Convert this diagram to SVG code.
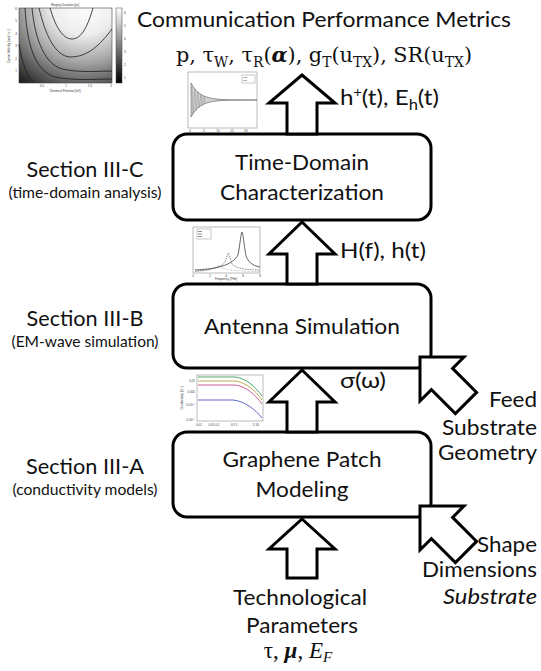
<svg xmlns="http://www.w3.org/2000/svg" width="541" height="671" viewBox="0 0 541 671">
  <defs>
    <radialGradient id="ringFill" gradientUnits="userSpaceOnUse" cx="84" cy="2" r="108">
      <stop offset="0" stop-color="#ffffff"/>
      <stop offset="0.3" stop-color="#eeeeee"/>
      <stop offset="0.55" stop-color="#a8a8a8"/>
      <stop offset="0.8" stop-color="#505050"/>
      <stop offset="1" stop-color="#080808"/>
    </radialGradient>
    <linearGradient id="barFill" x1="0" y1="0" x2="0" y2="1">
      <stop offset="0" stop-color="#ffffff"/>
      <stop offset="1" stop-color="#000000"/>
    </linearGradient>
  </defs>
  <style>
    .box{fill:#fff;stroke:#000;stroke-width:3}
    .arrow{fill:#fff;stroke:#000;stroke-width:3;stroke-linejoin:miter}
    .lbl{font-family:Lato,"Open Sans","Liberation Sans",sans-serif;font-size:22px;fill:#111}
    .sub{font-size:15px}
    .math{font-family:"DejaVu Serif","Liberation Serif",serif;font-size:21px;fill:#111}
    .mathb{font-family:"Liberation Serif","DejaVu Serif",serif;font-size:23px;fill:#111}
    .tiny{font-family:"Liberation Sans",Arial,sans-serif;font-size:3px;fill:#333}
    .frame{fill:#fff;stroke:#777;stroke-width:0.5}
  </style>
  <rect width="541" height="671" fill="#fff"/>

  <!-- ringing-duration contour map -->
  <g id="plot-ringing">
    <text class="tiny" x="65" y="5.5" text-anchor="middle">Ringing Duration [ps]</text>
    <rect x="19" y="8" width="93" height="75" fill="url(#ringFill)" stroke="#444" stroke-width="0.6"/>
    <g fill="none" stroke="#1a1a1a" stroke-width="0.8">
      <path d="M50,8 C55,25 62,39 72,39 C82,39 88,25 93,8"/>
      <path d="M39,8 C45,34 55,56 70,57 C88,57 100,45 112,29"/>
      <path d="M32,8 C35,40 45,64 62,69 C80,73 100,71 112,71"/>
      <path d="M25,8 C27,45 35,71 55,77 C75,81 95,79 112,79"/>
      <path d="M19,44 C22,64 27,76 34,83"/>
    </g>
    <rect x="116" y="8" width="6" height="75" fill="url(#barFill)" stroke="#444" stroke-width="0.5"/>
    <g class="tiny">
      <text x="124" y="14">6</text><text x="124" y="27">5</text><text x="124" y="40">4</text>
      <text x="124" y="53">3</text><text x="124" y="66">2</text><text x="124" y="79">1</text>
      <text x="17" y="10" text-anchor="end">6</text><text x="17" y="22" text-anchor="end">5</text>
      <text x="17" y="35" text-anchor="end">4</text><text x="17" y="47" text-anchor="end">3</text>
      <text x="17" y="60" text-anchor="end">2</text><text x="17" y="72" text-anchor="end">1</text>
      <text x="42" y="87" text-anchor="middle">0.5</text><text x="66" y="87" text-anchor="middle">1</text>
      <text x="90" y="87" text-anchor="middle">1.5</text><text x="111" y="87" text-anchor="middle">2</text>
      <text x="65" y="92" text-anchor="middle">Chemical Potential [eV]</text>
      <text transform="translate(10,46) rotate(-90)" text-anchor="middle">Carrier Mobility [m²V⁻¹s⁻¹]</text>
    </g>
  </g>

  <!-- time-domain response -->
  <g id="plot-time">
    <rect class="frame" x="188" y="72" width="69" height="56"/>
    <path d="M191,83 L194,87.8 L197,91.3 L200,93.7 L203,95.5 L206,96.8 L210,97.9 L215,98.8 L220,99.3 L225,99.6 L230,99.8 L257,100 L230,100.2 L225,100.4 L220,100.7 L215,101.2 L210,102.1 L206,103.2 L203,104.5 L200,106.3 L197,108.7 L194,112.2 L191,117 Z" fill="#d0d0d0" stroke="#444" stroke-width="0.5"/>
    <path d="M192,86 L193,114 L195,89 L196,111 L198,92 L199,108 L201,94 L202,106 L204,96 L205,104" fill="none" stroke="#888" stroke-width="0.4"/>
    <rect x="242" y="75" width="13" height="8" fill="#fff" stroke="#777" stroke-width="0.4"/>
    <path d="M243.5,77.5 H247 M243.5,80.5 H247" stroke="#555" stroke-width="0.5"/>
    <g class="tiny" font-size="2.5">
      <text x="190" y="132" text-anchor="middle">0</text><text x="204" y="132" text-anchor="middle">5</text>
      <text x="218" y="132" text-anchor="middle">10</text><text x="232" y="132" text-anchor="middle">15</text>
      <text x="246" y="132" text-anchor="middle">20</text>
      <text x="222" y="135.5" text-anchor="middle">Time [ps]</text>
    </g>
  </g>

  <!-- frequency response -->
  <g id="plot-freq">
    <rect class="frame" x="193" y="227" width="67" height="46"/>
    <path d="M195,270 C215,269 232,266 238,255 C240,245 241,232 242,232 C243,232 244,245 246,256 C249,264 255,266 260,267" fill="none" stroke="#222" stroke-width="0.7"/>
    <path d="M195,271 C215,270 224,266 226,260 C227,255 228,253 228.5,253 C229,253 230,258 232,264 C236,269 250,270 260,270" fill="none" stroke="#444" stroke-width="0.6" stroke-dasharray="1.5 1"/>
    <path d="M195,271.5 C210,271 215,268 217,266 L218,265 L219,266 C222,270 240,271.5 260,271.5" fill="none" stroke="#666" stroke-width="0.5" stroke-dasharray="0.6 0.8"/>
    <rect x="197" y="229" width="14" height="10" fill="#fff" stroke="#777" stroke-width="0.4"/>
    <path d="M198,231.5 H202 M198,234 H202 M198,236.5 H202" stroke="#444" stroke-width="0.6"/>
    <g class="tiny" font-size="2.5">
      <text x="193" y="276.5" text-anchor="middle">0</text><text x="210" y="276.5" text-anchor="middle">2</text>
      <text x="226" y="276.5" text-anchor="middle">4</text><text x="243" y="276.5" text-anchor="middle">6</text>
      <text x="260" y="276.5" text-anchor="middle">8</text>
      <text x="226" y="280" text-anchor="middle">Frequency [THz]</text>
    </g>
  </g>

  <!-- graphene conductivity -->
  <g id="plot-conductivity">
    <rect class="frame" x="197" y="375" width="66" height="46"/>
    <g fill="none" stroke-width="0.9">
      <path d="M198,377 L235,377 C245,378 255,386 262,396" stroke="#3f9f55"/>
      <path d="M198,381 L235,381 C245,382 255,390 262,400" stroke="#b8a038"/>
      <path d="M198,385 L235,385 C245,386 255,394 262,404" stroke="#c24a8e"/>
      <path d="M198,400 L233,400 C244,401 255,409 262,418" stroke="#4a55c0"/>
    </g>
    <g class="tiny">
      <text x="195" y="382" text-anchor="end">0.01</text>
      <text x="195" y="393" text-anchor="end">0.001</text>
      <text x="195" y="406" text-anchor="end">1×10⁻⁴</text>
      <text x="195" y="421" text-anchor="end">1×10⁻⁵</text>
      <text x="199" y="425.5" text-anchor="middle">0.01</text>
      <text x="214" y="425.5" text-anchor="middle">0.05 0.1</text>
      <text x="234" y="425.5" text-anchor="middle">0.5  1</text>
      <text x="256" y="425.5" text-anchor="middle">5 10</text>
      <text transform="translate(183,398) rotate(-90)" text-anchor="middle">Conductivity [Ω⁻¹]</text>
    </g>
  </g>

  <!-- processing blocks -->
  <g id="node-time-domain">
    <rect class="box" x="173" y="134" width="258" height="86" rx="14"/>
    <text class="lbl" x="302" y="169.5" text-anchor="middle" textLength="134" lengthAdjust="spacingAndGlyphs">Time-Domain</text>
    <text class="lbl" x="302" y="199.5" text-anchor="middle" textLength="164" lengthAdjust="spacingAndGlyphs">Characterization</text>
  </g>
  <g id="node-antenna">
    <rect class="box" x="173" y="284" width="258" height="84" rx="14"/>
    <text class="lbl" x="302" y="334" text-anchor="middle" textLength="196" lengthAdjust="spacingAndGlyphs">Antenna Simulation</text>
  </g>
  <g id="node-graphene">
    <rect class="box" x="173" y="432" width="258" height="85" rx="14"/>
    <text class="lbl" x="302" y="467" text-anchor="middle" textLength="159" lengthAdjust="spacingAndGlyphs">Graphene Patch</text>
    <text class="lbl" x="302" y="497" text-anchor="middle" textLength="93" lengthAdjust="spacingAndGlyphs">Modeling</text>
  </g>

  <!-- section captions -->
  <g id="section-c">
    <text class="lbl" x="85" y="177" text-anchor="middle" textLength="117" lengthAdjust="spacingAndGlyphs">Section III-C</text>
    <text class="lbl sub" x="85" y="198" text-anchor="middle" textLength="153" lengthAdjust="spacingAndGlyphs">(time-domain analysis)</text>
  </g>
  <g id="section-b">
    <text class="lbl" x="85" y="326" text-anchor="middle" textLength="117" lengthAdjust="spacingAndGlyphs">Section III-B</text>
    <text class="lbl sub" x="85" y="347" text-anchor="middle" textLength="147" lengthAdjust="spacingAndGlyphs">(EM-wave simulation)</text>
  </g>
  <g id="section-a">
    <text class="lbl" x="85" y="474" text-anchor="middle" textLength="118" lengthAdjust="spacingAndGlyphs">Section III-A</text>
    <text class="lbl sub" x="85" y="495" text-anchor="middle" textLength="145" lengthAdjust="spacingAndGlyphs">(conductivity models)</text>
  </g>

  <!-- outputs at the top -->
  <g id="output-metrics">
    <text class="lbl" x="324" y="27" text-anchor="middle" textLength="374" lengthAdjust="spacingAndGlyphs">Communication Performance Metrics</text>
    <text class="math" x="176" y="62" textLength="296" lengthAdjust="spacingAndGlyphs">p, τ<tspan dy="5" font-size="14">W</tspan><tspan dy="-5">, τ</tspan><tspan dy="5" font-size="14">R</tspan><tspan dy="-5">(</tspan><tspan font-weight="bold" font-style="italic">α</tspan>), g<tspan dy="5" font-size="14">T</tspan><tspan dy="-5">(u</tspan><tspan dy="5" font-size="14">TX</tspan><tspan dy="-5">), SR(u</tspan><tspan dy="5" font-size="14">TX</tspan><tspan dy="-5">)</tspan></text>
  </g>

  <!-- inputs at the bottom and right -->
  <g id="input-technology">
    <text class="lbl" x="300" y="605" text-anchor="middle" textLength="134" lengthAdjust="spacingAndGlyphs">Technological</text>
    <text class="lbl" x="302" y="633" text-anchor="middle" textLength="112" lengthAdjust="spacingAndGlyphs">Parameters</text>
    <text class="mathb" x="298" y="658" text-anchor="middle">τ, <tspan font-weight="bold" font-style="italic">μ</tspan>, <tspan font-style="italic">E</tspan><tspan dy="4" font-size="15" font-style="italic">F</tspan></text>
  </g>
  <g id="input-feed">
    <text class="lbl" x="537" y="407" text-anchor="end" textLength="48" lengthAdjust="spacingAndGlyphs">Feed</text>
    <text class="lbl" x="537" y="435" text-anchor="end" textLength="95" lengthAdjust="spacingAndGlyphs">Substrate</text>
    <text class="lbl" x="537" y="460" text-anchor="end" textLength="99" lengthAdjust="spacingAndGlyphs">Geometry</text>
  </g>
  <g id="input-shape">
    <text class="lbl" x="537" y="552" text-anchor="end" textLength="60" lengthAdjust="spacingAndGlyphs">Shape</text>
    <text class="lbl" x="537" y="577" text-anchor="end" textLength="115" lengthAdjust="spacingAndGlyphs">Dimensions</text>
    <text class="lbl" x="537" y="604" text-anchor="end" font-style="italic" textLength="94" lengthAdjust="spacingAndGlyphs">Substrate</text>
  </g>

  <!-- flow arrows and their labels -->
  <g id="connectors">
    <path class="arrow" d="M302,75 L335,103 L317,103 L317,134 L287,134 L287,103 L269,103 Z"/>
    <path class="arrow" d="M302,222 L335,254 L317,254 L317,284 L287,284 L287,254 L269,254 Z"/>
    <path class="arrow" d="M302,370 L335,402 L317,402 L317,432 L287,432 L287,402 L269,402 Z"/>
    <path class="arrow" d="M302,519 L335,549 L317,549 L317,578 L287,578 L287,549 L269,549 Z"/>
    <path class="arrow" d="M420,357 L464,357 L452.6,368.4 L476.6,392.4 L455.4,413.6 L431.4,389.6 L420,401 Z"/>
    <path class="arrow" d="M420,506 L464,506 L452.6,517.4 L476.6,541.4 L455.4,562.6 L431.4,538.6 L420,550 Z"/>
    <text class="lbl" x="340" y="105" textLength="99" lengthAdjust="spacingAndGlyphs">h<tspan dy="-8" font-size="13">+</tspan><tspan dy="8">(t), E</tspan><tspan dy="5" font-size="15">h</tspan><tspan dy="-5">(t)</tspan></text>
    <text class="lbl" x="340" y="258" textLength="86" lengthAdjust="spacingAndGlyphs">H(f), h(t)</text>
    <text class="lbl" x="340" y="388" textLength="46" lengthAdjust="spacingAndGlyphs">σ(ω)</text>
  </g>
</svg>
